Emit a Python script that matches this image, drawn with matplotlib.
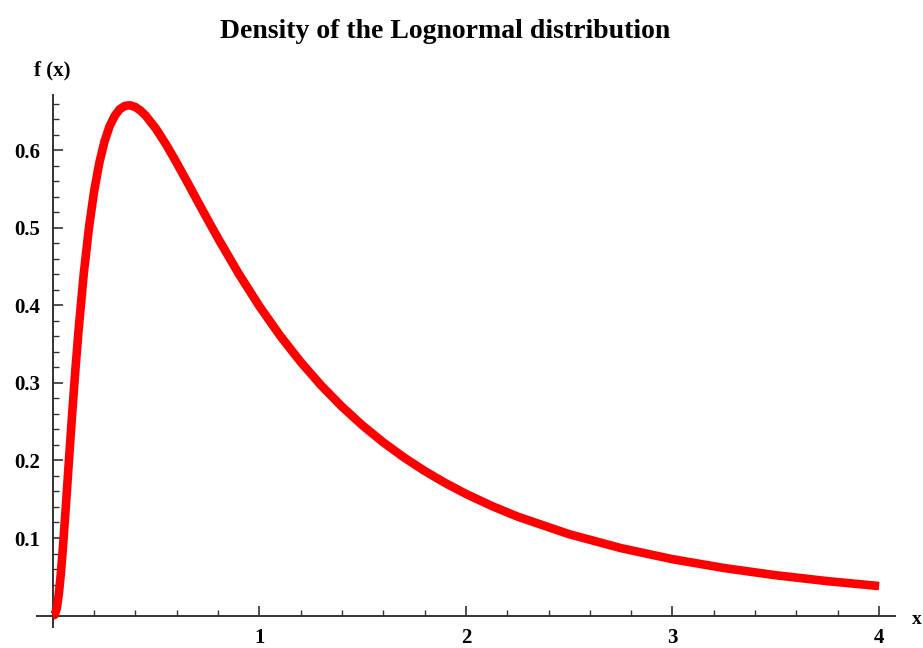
import matplotlib
matplotlib.use("Agg")
import matplotlib.pyplot as plt
from matplotlib.ticker import FixedLocator

# Values
x_vals = [0.0, 0.01, 0.02, 0.03, 0.04, 0.05, 0.06, 0.07, 0.08, 0.09, 0.1,
          0.11, 0.125, 0.15, 0.175, 0.2, 0.225, 0.25, 0.275, 0.3, 0.325,
          0.35, 0.375, 0.4, 0.425, 0.45, 0.5, 0.55, 0.6, 0.65, 0.7, 0.75,
          0.8, 0.9, 1.0, 1.1, 1.2, 1.3, 1.4, 1.5, 1.6, 1.7, 1.8, 1.9, 2.0,
          2.125, 2.25, 2.5, 2.75, 3.0, 3.25, 3.5, 3.75, 4.0]
y_vals = [0.0, 0.001, 0.0095, 0.0285, 0.0561, 0.0898, 0.127, 0.166, 0.2054,
          0.2441, 0.2815, 0.3174, 0.3673, 0.4399, 0.499, 0.5463, 0.5828,
          0.6104, 0.6305, 0.6441, 0.6528, 0.657, 0.6577, 0.6555, 0.6509,
          0.6445, 0.6275, 0.6067, 0.5836, 0.5594, 0.5348, 0.5104, 0.4864,
          0.4408, 0.3989, 0.361, 0.327, 0.2965, 0.2693, 0.245, 0.2233,
          0.2039, 0.1865, 0.1709, 0.1569, 0.1413, 0.1276, 0.1049, 0.087,
          0.0727, 0.0613, 0.052, 0.0444, 0.0381]

x_ticks = [1, 2, 3, 4]
y_ticks = [0.1, 0.2, 0.3, 0.4, 0.5, 0.6]
title = "Density of the Lognormal distribution"

serif = ["Liberation Serif", "DejaVu Serif"]

fig = plt.figure(figsize=(9.23, 6.48), dpi=100)
ax = fig.add_axes([37 / 923, 21 / 648, (895 - 37) / 923, (627 - 95) / 648])

ax.plot(x_vals, y_vals, color="#ff0000", linewidth=6.2, solid_capstyle="butt",
        solid_joinstyle="round", zorder=3, clip_on=False)

ax.set_xlim(-0.076, 4.077)
ax.set_ylim(-0.0147, 0.671)

for s in ["top", "right"]:
    ax.spines[s].set_visible(False)
ax.spines["left"].set_position(("data", 0))
ax.spines["bottom"].set_position(("data", 0))
for s in ["left", "bottom"]:
    ax.spines[s].set_color("#333333")
    ax.spines[s].set_linewidth(1.4)

ax.xaxis.set_major_locator(FixedLocator(x_ticks))
ax.yaxis.set_major_locator(FixedLocator(y_ticks))
ax.xaxis.set_minor_locator(FixedLocator([i * 0.2 for i in range(1, 21) if i % 5 != 0]))
ax.yaxis.set_minor_locator(FixedLocator([i * 0.02 for i in range(1, 34) if i % 5 != 0]))

ax.tick_params(axis="both", which="major", direction="in", length=7, width=1.2,
               color="#333333", labelsize=15)
ax.tick_params(axis="both", which="minor", direction="in", length=4, width=1.0,
               color="#333333")
ax.tick_params(axis="x", which="major", pad=9)
ax.tick_params(axis="y", which="major", pad=9)

ax.set_xticklabels([str(t) for t in x_ticks], family=serif, fontweight="bold")
ax.set_yticklabels([f"{t:.1f}" for t in y_ticks], family=serif, fontweight="bold")

fig.text(445 / 923, 1 - 31 / 648, title, ha="center", va="center",
         family=serif, fontweight="bold", fontsize=20)
fig.text(52 / 923, 1 - 70 / 648, "f (x)", ha="center", va="center",
         family=serif, fontweight="bold", fontsize=15)
fig.text(912 / 923, 1 - 619 / 648, "x", ha="left", va="center",
         family=serif, fontweight="bold", fontsize=14)

fig.savefig("out.png", dpi=100)
